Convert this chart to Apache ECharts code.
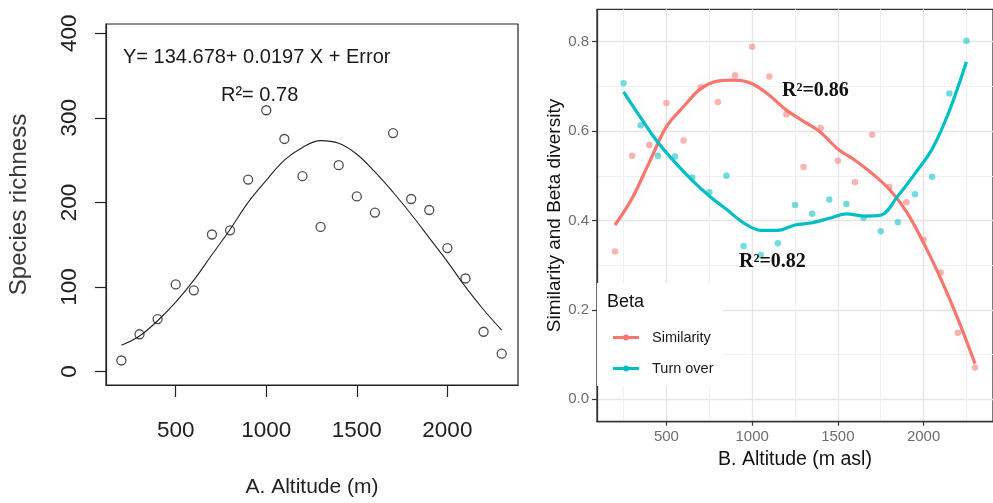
<!DOCTYPE html>
<html>
<head>
<meta charset="utf-8">
<script src="https://cdn.jsdelivr.net/npm/echarts@6/dist/echarts.min.js"></script>
<style>
  html, body { margin: 0; padding: 0; background: #fff; }
  #chart { width: 993px; height: 503px; }
</style>
</head>
<body>
<div id="chart"></div>
<script>
// Panel A: species richness along the altitude gradient
const altitudeA   = [200, 300, 400, 500, 600, 700, 800, 900, 1000, 1100, 1200, 1300, 1400, 1500, 1600, 1700, 1800, 1900, 2000, 2100, 2200, 2300];
const richness    = [13, 44, 62, 103, 96, 162, 167, 227, 309, 275, 231, 171, 244, 207, 188, 282, 204, 191, 146, 110, 47, 21];
const richnessFit = [31, 42, 60, 82, 108, 138, 168, 200, 226, 250, 265, 273, 270, 257, 236, 212, 186, 158, 130, 100, 73, 49];
const ticksAx = [500, 1000, 1500, 2000];
const ticksAy = [0, 100, 200, 300, 400];

// Panel B: similarity and turnover (beta diversity) along the gradient
const altitudeSim   = [200, 300, 400, 500, 600, 700, 800, 900, 1000, 1100, 1200, 1300, 1400, 1500, 1600, 1700, 1800, 1900, 2000, 2100, 2200, 2300];
const similarity    = [0.331, 0.545, 0.569, 0.663, 0.579, 0.698, 0.665, 0.725, 0.789, 0.722, 0.638, 0.520, 0.607, 0.534, 0.486, 0.592, 0.475, 0.441, 0.357, 0.284, 0.149, 0.071];
const similarityFit = [0.39, 0.45, 0.53, 0.61, 0.655, 0.695, 0.712, 0.714, 0.706, 0.68, 0.647, 0.622, 0.597, 0.56, 0.535, 0.505, 0.47, 0.42, 0.35, 0.27, 0.18, 0.08];
const altitudeTurn  = [250, 350, 450, 550, 650, 750, 850, 950, 1050, 1150, 1250, 1350, 1450, 1550, 1650, 1750, 1850, 1950, 2050, 2150, 2250];
const turnover      = [0.707, 0.613, 0.545, 0.543, 0.496, 0.463, 0.500, 0.343, 0.323, 0.349, 0.435, 0.415, 0.447, 0.437, 0.406, 0.376, 0.396, 0.459, 0.498, 0.684, 0.802];
const turnoverFit   = [0.688, 0.63, 0.575, 0.53, 0.49, 0.455, 0.425, 0.395, 0.378, 0.378, 0.39, 0.395, 0.405, 0.415, 0.41, 0.412, 0.455, 0.505, 0.56, 0.645, 0.755];
const ticksBx      = [500, 1000, 1500, 2000];
const ticksBxMinor = [250, 750, 1250, 1750, 2250];
const ticksBy      = [0, 0.2, 0.4, 0.6, 0.8];
const ticksByMinor = [0.1, 0.3, 0.5, 0.7];

const pairs = (xs, ys) => xs.map((x, i) => [x, ys[i]]);

const SANS = 'Liberation Sans, Arial, sans-serif';
const SERIF = 'Liberation Serif, Times New Roman, serif';
const RED = '#F8766D';
const TEAL = '#00BFC4';
// legend key: a short line with a dot in the middle
const legendIcon = 'path://M0,1.4h10.2v3.2h-10.2z M15.8,1.4h10.2v3.2h-10.2z M10,3a3,3 0 1,1 6,0a3,3 0 1,1 -6,0z';
const plain = v => String(v);

const chart = echarts.init(document.getElementById('chart'), null, { renderer: 'canvas' });

chart.setOption({
  animation: false,
  backgroundColor: '#ffffff',
  grid: [
    { left: 106, top: 24, width: 412, height: 362, show: true, borderColor: '#222', borderWidth: 1.2, backgroundColor: 'transparent' },
    { left: 597, top: 9.3, width: 404, height: 412.4, show: true, borderColor: '#333', borderWidth: 1.3, backgroundColor: 'transparent' }
  ],
  xAxis: [
    {
      gridIndex: 0, type: 'value', min: 115, max: 2390,
      axisLine: { show: true, onZero: false, lineStyle: { color: '#222', width: 1.2 } },
      axisTick: { show: true, inside: false, length: 12, customValues: ticksAx, lineStyle: { color: '#222', width: 1.2 } },
      axisLabel: { customValues: ticksAx, formatter: plain, margin: 34, fontSize: 22.5, color: '#222', fontFamily: SANS },
      splitLine: { show: false },
      name: 'A. Altitude (m)', nameLocation: 'middle', nameGap: 92,
      nameTextStyle: { fontSize: 21, color: '#222', fontFamily: SANS }
    },
    {
      gridIndex: 1, type: 'value', min: 95, max: 2405, position: 'bottom',
      axisLine: { show: true, onZero: false, lineStyle: { color: '#333', width: 1.3 } },
      axisTick: { show: true, inside: false, length: 4, customValues: ticksBx, lineStyle: { color: '#333', width: 1.2 } },
      axisLabel: { customValues: ticksBx, formatter: plain, margin: 8, fontSize: 15, color: '#6e6e6e', fontFamily: SANS },
      splitLine: { show: true, lineStyle: { color: '#e6e6e6', width: 1.3 } },
      name: 'B. Altitude (m asl)', nameLocation: 'middle', nameGap: 27,
      nameTextStyle: { fontSize: 19.5, color: '#111', fontFamily: SANS }
    },
    {
      gridIndex: 1, type: 'value', min: 95, max: 2405, position: 'top',
      axisLine: { show: false, onZero: false },
      axisTick: { show: false, customValues: ticksBxMinor },
      axisLabel: { show: false, customValues: ticksBxMinor },
      splitLine: { show: true, lineStyle: { color: '#f1f1f1', width: 1 } }
    }
  ],
  yAxis: [
    {
      gridIndex: 0, type: 'value', min: -16, max: 411,
      axisLine: { show: true, onZero: false, lineStyle: { color: '#222', width: 1.2 } },
      axisTick: { show: true, inside: false, length: 11, customValues: ticksAy, lineStyle: { color: '#222', width: 1.2 } },
      axisLabel: { customValues: ticksAy, formatter: plain, rotate: 90, margin: 25, fontSize: 22.5, color: '#222', fontFamily: SANS },
      splitLine: { show: false },
      name: 'Species richness', nameLocation: 'middle', nameGap: 75,
      nameTextStyle: { fontSize: 24, color: '#3a3a3a', fontFamily: SANS }
    },
    {
      gridIndex: 1, type: 'value', min: -0.05, max: 0.8725, position: 'left',
      axisLine: { show: true, onZero: false, lineStyle: { color: '#333', width: 1.3 } },
      axisTick: { show: true, inside: false, length: 5, customValues: ticksBy, lineStyle: { color: '#333', width: 1.2 } },
      axisLabel: { customValues: ticksBy, margin: 8, fontSize: 15, color: '#6e6e6e', fontFamily: SANS,
                   formatter: v => v.toFixed(1) },
      splitLine: { show: true, lineStyle: { color: '#e6e6e6', width: 1.3 } },
      name: 'Similarity and Beta diversity', nameLocation: 'middle', nameGap: 31,
      nameTextStyle: { fontSize: 19, color: '#111', fontFamily: SANS }
    },
    {
      gridIndex: 1, type: 'value', min: -0.05, max: 0.8725, position: 'right',
      axisLine: { show: false, onZero: false },
      axisTick: { show: false, customValues: ticksByMinor },
      axisLabel: { show: false, customValues: ticksByMinor },
      splitLine: { show: true, lineStyle: { color: '#f1f1f1', width: 1 } }
    }
  ],
  legend: {
    data: ['Similarity', 'Turn over'],
    orient: 'vertical', left: 597, top: 283,
    backgroundColor: '#ffffff',
    padding: [47, 9, 10, 16],
    itemWidth: 26, itemHeight: 6, itemGap: 16,
    icon: legendIcon,
    textStyle: { fontSize: 14.5, color: '#1a1a1a', fontFamily: SANS, padding: [0, 0, 0, 8] },
    selectedMode: false
  },
  title: {
    text: 'Beta', left: 607, top: 293, padding: 0,
    textStyle: { fontSize: 18, fontWeight: 'normal', color: '#111', fontFamily: SANS }
  },
  graphic: [
    { type: 'text', left: 123, top: 47, z: 10,
      style: { text: 'Y= 134.678+ 0.0197 X + Error', font: '20px ' + SANS, fill: '#1a1a1a' } },
    { type: 'text', left: 221, top: 85, z: 10,
      style: { text: 'R\u00b2= 0.78', font: '20px ' + SANS, fill: '#1a1a1a' } },
    { type: 'text', left: 782, top: 81, z: 10,
      style: { text: 'R\u00b2=0.86', font: 'bold 20px ' + SERIF, fill: '#111' } },
    { type: 'text', left: 739, top: 252, z: 10,
      style: { text: 'R\u00b2=0.82', font: 'bold 20px ' + SERIF, fill: '#111' } }
  ],
  series: [
    {
      name: 'Species richness', type: 'scatter', xAxisIndex: 0, yAxisIndex: 0,
      data: pairs(altitudeA, richness),
      symbol: 'circle', symbolSize: 9,
      itemStyle: { color: 'rgba(255,255,255,0)', borderColor: '#222', borderWidth: 1.3 }
    },
    {
      name: 'Fitted richness', type: 'line', xAxisIndex: 0, yAxisIndex: 0,
      data: pairs(altitudeA, richnessFit),
      smooth: 0.4, showSymbol: false,
      lineStyle: { color: '#222', width: 1.1 }
    },
    {
      name: 'Similarity observed', type: 'scatter', xAxisIndex: 1, yAxisIndex: 1,
      data: pairs(altitudeSim, similarity),
      symbolSize: 6.5, itemStyle: { color: RED, opacity: 0.55 }
    },
    {
      name: 'Turn over observed', type: 'scatter', xAxisIndex: 1, yAxisIndex: 1,
      data: pairs(altitudeTurn, turnover),
      symbolSize: 6.5, itemStyle: { color: TEAL, opacity: 0.55 }
    },
    {
      name: 'Similarity', type: 'line', xAxisIndex: 1, yAxisIndex: 1,
      data: pairs(altitudeSim, similarityFit),
      smooth: 0.35, showSymbol: false, color: RED,
      lineStyle: { color: RED, width: 3.2, shadowColor: 'rgba(0,0,0,0.08)', shadowBlur: 18 }
    },
    {
      name: 'Turn over', type: 'line', xAxisIndex: 1, yAxisIndex: 1,
      data: pairs(altitudeTurn, turnoverFit),
      smooth: 0.35, showSymbol: false, color: TEAL,
      lineStyle: { color: TEAL, width: 3.2, shadowColor: 'rgba(0,0,0,0.08)', shadowBlur: 18 }
    }
  ]
});
</script>
</body>
</html>
